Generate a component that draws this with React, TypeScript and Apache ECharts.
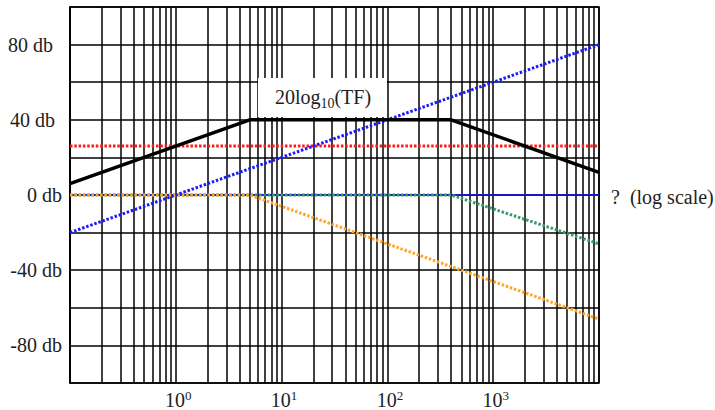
import React, { useEffect, useRef } from "react";
import * as echarts from "echarts";

// Axis ranges and tick labels
const xMin = 0.1;
const xMax = 10000;
const yMin = -100;
const yMax = 100;
const yStep = 20;
const yLabelValues = [80, 40, 0, -40, -80];
const xLabelExponents = [0, 1, 2, 3];

// Log grid: decades and multipliers within each decade
const decadeStarts = [0.1, 1, 10, 100, 1000];
const decadeMultipliers = [1, 2, 3, 4, 5, 6, 7, 8, 9];

// 20log10(TF) asymptotic curve
const tfFreq = [0.1, 5, 400, 10000];
const tfDb = [6, 40, 40, 12];

// Constant gain term
const gainFreq = [0.1, 10000];
const gainDb = [26, 26];

// Zero at origin (+20 dB/decade)
const zeroFreq = [0.1, 10000];
const zeroDb = [-20, 80];

// First pole (break at 5)
const pole1Freq = [0.1, 5, 10000];
const pole1Db = [0, 0, -66];

// Second pole (break at 400)
const pole2Freq = [0.1, 400, 10000];
const pole2Db = [0, 0, -26];

// 0 dB reference line
const refFreq = [0.1, 10000];
const refDb = [0, 0];

const FONT = "Liberation Serif";
const TXT = "#1e1e1e";

function pairs(xs: number[], ys: number[]) {
  return xs.map((x, i) => [x, ys[i]]);
}

export default function App() {
  const ref = useRef<HTMLDivElement>(null);

  useEffect(() => {
    if (!ref.current) return;
    const chart = echarts.init(ref.current, undefined, { renderer: "svg" });

    const gridFreqs: number[] = [];
    decadeStarts.forEach((d) => decadeMultipliers.forEach((m) => gridFreqs.push(d * m)));
    gridFreqs.push(xMax);

    const dotted = [2.5, 1.8];

    chart.setOption({
      animation: false,
      grid: {
        left: 70,
        right: 116,
        top: 7,
        bottom: 27,
        show: true,
        borderColor: "#000",
        borderWidth: 1.5,
        backgroundColor: "#fff",
      },
      xAxis: {
        type: "log",
        logBase: 10,
        min: xMin,
        max: xMax,
        axisLine: { show: true, lineStyle: { color: "#000", width: 1.5 } },
        axisTick: { show: false },
        splitLine: { show: false },
        axisLabel: {
          margin: 6,
          formatter: (v: number) => {
            const p = Math.round(Math.log10(v));
            if (!xLabelExponents.includes(p)) return "";
            return `{b|10}{s|${p}}`;
          },
          rich: {
            b: { fontFamily: FONT, fontSize: 20, color: TXT, lineHeight: 22, padding: [0, 0, 0, 5] },
            s: { fontFamily: FONT, fontSize: 13, color: TXT, lineHeight: 12, verticalAlign: "top" },
          },
        },
      },
      yAxis: {
        type: "value",
        min: yMin,
        max: yMax,
        interval: yStep,
        axisLine: { show: true, lineStyle: { color: "#000", width: 1.5 } },
        axisTick: { show: false },
        splitLine: { show: true, lineStyle: { color: "#000", width: 1.5 } },
        axisLabel: {
          margin: 8,
          formatter: (v: number) => {
            if (!yLabelValues.includes(v)) return "";
            if (v === 80) return `{w|${v} db}`;
            if (v === 40) return `{v|${v} db}`;
            return `{n|${v} db}`;
          },
          rich: {
            w: { fontFamily: FONT, fontSize: 20, color: TXT, padding: [0, 9, 0, 0] },
            v: { fontFamily: FONT, fontSize: 20, color: TXT, padding: [0, 7, 0, 0] },
            n: { fontFamily: FONT, fontSize: 20, color: TXT },
          },
        },
      },
      graphic: [
        {
          type: "rect",
          z: 100,
          shape: { x: 258, y: 78, width: 129, height: 39 },
          style: { fill: "#fff" },
        },
        {
          type: "text",
          z: 101,
          x: 323,
          y: 97,
          style: {
            text: "{a|20log}{b|10}{a|(TF)}",
            align: "center",
            verticalAlign: "middle",
            rich: {
              a: { fontFamily: FONT, fontSize: 20, fill: TXT, lineHeight: 26 },
              b: { fontFamily: FONT, fontSize: 14, fill: TXT, lineHeight: 13, verticalAlign: "bottom" },
            },
          },
        },
        {
          type: "text",
          z: 101,
          x: 611,
          y: 197,
          style: {
            text: "?  (log scale)",
            fontFamily: FONT,
            fontSize: 20,
            fill: TXT,
            verticalAlign: "middle",
          },
        },
      ],
      series: [
        {
          type: "line",
          name: "grid",
          data: [],
          z: 1,
          silent: true,
          markLine: {
            silent: true,
            symbol: ["none", "none"],
            label: { show: false },
            lineStyle: { color: "#000", width: 1.5, type: "solid" },
            emphasis: { disabled: true },
            data: gridFreqs.map((f) => ({ xAxis: f })),
          },
        },
        {
          type: "line",
          name: "ref",
          data: pairs(refFreq, refDb),
          z: 10,
          symbol: "none",
          silent: true,
          lineStyle: { color: "#1a1aff", width: 1.5, type: "solid" },
        },
        {
          type: "line",
          name: "pole2",
          data: pairs(pole2Freq, pole2Db),
          z: 11,
          symbol: "none",
          silent: true,
          lineStyle: { color: "#3a9a6a", width: 3, type: dotted },
        },
        {
          type: "line",
          name: "pole1",
          data: pairs(pole1Freq, pole1Db),
          z: 11,
          symbol: "none",
          silent: true,
          lineStyle: { color: "#ffa424", width: 3, type: dotted },
        },
        {
          type: "line",
          name: "gain",
          data: pairs(gainFreq, gainDb),
          z: 11,
          symbol: "none",
          silent: true,
          lineStyle: { color: "#ff1a1a", width: 3, type: dotted },
        },
        {
          type: "line",
          name: "zero",
          data: pairs(zeroFreq, zeroDb),
          z: 11,
          symbol: "none",
          silent: true,
          lineStyle: { color: "#1a1aff", width: 3, type: dotted },
        },
        {
          type: "line",
          name: "tf",
          data: pairs(tfFreq, tfDb),
          z: 12,
          symbol: "none",
          silent: true,
          lineStyle: { color: "#000", width: 3.5, type: "solid" },
        },
      ],
    });

    return () => chart.dispose();
  }, []);

  return (
    <div
      ref={ref}
      style={{ position: "fixed", left: 0, top: 0, width: 715, height: 410, background: "#fff" }}
    />
  );
}
